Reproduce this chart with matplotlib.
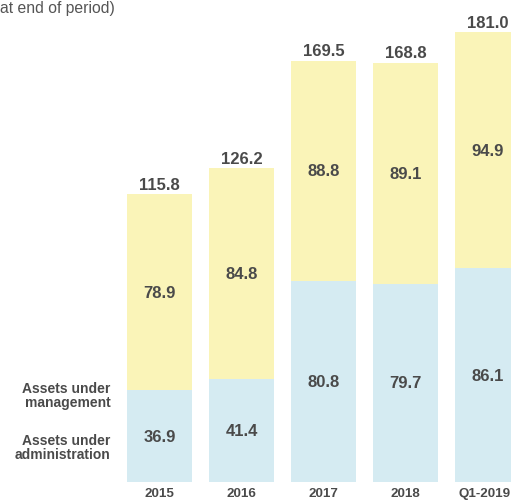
import matplotlib.pyplot as plt
import numpy as np

# --- data ---
years = ['2015', '2016', '2017', '2018', 'Q1-2019']
administration = [36.9, 41.4, 80.8, 79.7, 86.1]
management = [78.9, 84.8, 88.8, 89.1, 94.9]
totals = [115.8, 126.2, 169.5, 168.8, 181.0]

# --- style ---
blue = '#d5ebf2'
yellow = '#faf4b8'
grey = '#4a4a4a'
plt.rcParams['font.family'] = ['Liberation Sans', 'DejaVu Sans']

fig = plt.figure(figsize=(5.11, 5.02), dpi=100)
ax = fig.add_axes([0, 19 / 502, 1, 483 / 502])

x = np.arange(len(years))
w = 0.79
ax.bar(x, administration, width=w, color=blue, linewidth=0)
ax.bar(x, management, width=w, bottom=administration, color=yellow, linewidth=0)

for i in range(len(years)):
    ax.text(x[i], administration[i] / 2, f'{administration[i]:.1f}', ha='center', va='center',
            fontsize=12, fontweight='bold', color=grey)
    ax.text(x[i], administration[i] + management[i] / 2, f'{management[i]:.1f}', ha='center',
            va='center', fontsize=12, fontweight='bold', color=grey)
    ax.text(x[i], totals[i] + 4, f'{totals[i]:.1f}', ha='center', va='center',
            fontsize=12, fontweight='bold', color=grey)
    # last label sits against the right edge, keep it inside the figure
    xl = x[i] - 0.04 if i == len(years) - 1 else x[i]
    ax.text(xl, -4.5, years[i], ha='center', va='center', fontsize=9.6,
            fontweight='bold', color=grey)

# series labels on the left
ax.text(-0.60, 35, 'Assets under\nmanagement', ha='right', va='center', fontsize=10,
        fontweight='bold', color=grey, linespacing=1.05)
ax.text(-0.60, 14, 'Assets under\nadministration', ha='right', va='center', fontsize=10,
        fontweight='bold', color=grey, linespacing=1.05)

fig.text(0, 1 - 9 / 502, 'at end of period)', ha='left', va='center', fontsize=11.3, color='#555555')

ax.set_xlim(-159.5 / 82, (511 - 159.5) / 82)
ax.set_ylim(0, 483 / 2.485)
ax.axis('off')

fig.savefig('out.png', dpi=100)
